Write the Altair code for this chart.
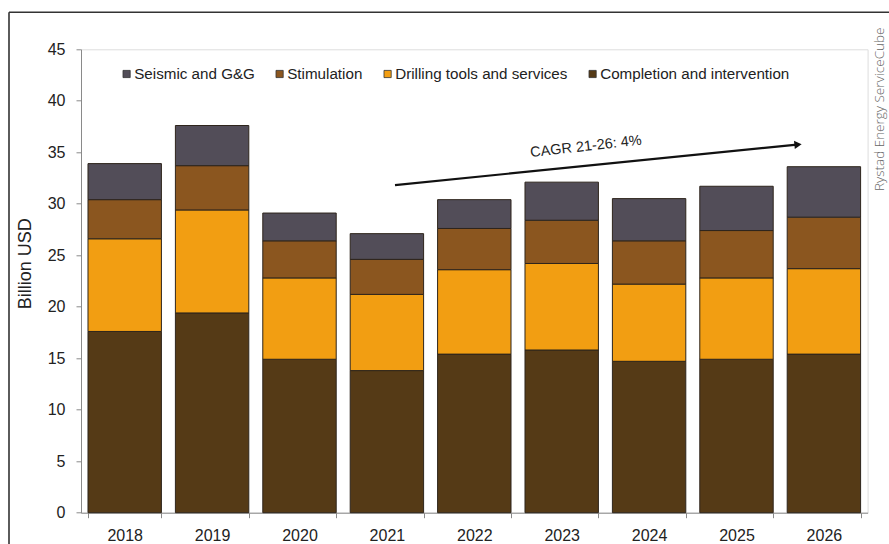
import altair as alt
import pandas as pd

years = ["2018", "2019", "2020", "2021", "2022", "2023", "2024", "2025", "2026"]
series = ["Seismic and G&G", "Stimulation", "Drilling tools and services", "Completion and intervention"]
colors = ["#524d58", "#8b561f", "#f29e12", "#553a16"]
completion = [17.6, 19.4, 14.9, 13.8, 15.4, 15.8, 14.7, 14.9, 15.4]
drilling = [9.0, 10.0, 7.9, 7.4, 8.2, 8.4, 7.5, 7.9, 8.3]
stimulation = [3.8, 4.3, 3.6, 3.4, 4.0, 4.2, 4.2, 4.6, 5.0]
seismic = [3.5, 3.9, 2.7, 2.5, 2.8, 3.7, 4.1, 4.3, 4.9]
y_ticks = [0, 5, 10, 15, 20, 25, 30, 35, 40, 45]
cagr_label = "CAGR 21-26: 4%"
source_label = "Rystad Energy ServiceCube"

rows = []
for vals, name, order in [(completion, series[3], 0), (drilling, series[2], 1),
                          (stimulation, series[1], 2), (seismic, series[0], 3)]:
    for yr, v in zip(years, vals):
        rows.append({"year": yr, "series": name, "value": v, "ord": order})
df = pd.DataFrame(rows)

FONT = "Liberation Sans"
W, H = 786.6, 463.4

bars = alt.Chart(df).mark_bar(stroke="#2e251c", strokeWidth=1).encode(
    x=alt.X("year:N", sort=years,
            scale=alt.Scale(paddingInner=0.16, paddingOuter=0.08),
            axis=alt.Axis(title=None, tickBand="extent", labelAngle=0, labelFontSize=16,
                          labelColor="#222", labelFont=FONT, domainColor="#8a8a8a",
                          tickColor="#8a8a8a", tickSize=5, labelPadding=10)),
    y=alt.Y("value:Q", stack="zero",
            scale=alt.Scale(domain=[0, 45], nice=False),
            axis=alt.Axis(title="Billion USD", values=y_ticks, grid=False, labelFontSize=16,
                          labelColor="#222", labelFont=FONT, domainColor="#8a8a8a",
                          tickColor="#8a8a8a", tickSize=5, labelPadding=11,
                          titleFontSize=18, titleFont=FONT, titleFontWeight="normal",
                          titleColor="#222", titleX=-56, titleY=214, titleAlign="center",
                          titleBaseline="middle", titleAngle=270)),
    color=alt.Color("series:N",
                    scale=alt.Scale(domain=series, range=colors),
                    legend=alt.Legend(title=None, orient="none", direction="horizontal",
                                      legendX=38, legendY=17, symbolType="square",
                                      symbolSize=52, symbolStrokeColor="#333",
                                      symbolStrokeWidth=0.8, labelFontSize=15.2,
                                      labelFont=FONT, labelColor="#222", labelOffset=0,
                                      labelLimit=0,
                                      columnPadding=17, padding=0, columns=4)),
    order=alt.Order("ord:Q", sort="ascending"),
)

frame_df = pd.DataFrame({"k": [0]})
frame_left = alt.Chart(frame_df).mark_rule(color="#333", strokeWidth=1.6).encode(
    x=alt.value(-72), y=alt.value(-37), y2=alt.value(520))
frame_top = alt.Chart(frame_df).mark_rule(color="#333", strokeWidth=1.6).encode(
    x=alt.value(-72), x2=alt.value(830), y=alt.value(-37))

arrow_line = alt.Chart(frame_df).mark_rule(color="#111", strokeWidth=2.2).encode(
    x=alt.value(314), x2=alt.value(716), y=alt.value(135.8), y2=alt.value(95.3))
arrow_head = alt.Chart(frame_df).mark_point(shape="triangle-right", filled=True, color="#111",
                                            size=70, angle=354.3, opacity=1).encode(
    x=alt.value(717), y=alt.value(95.2))
cagr = alt.Chart(pd.DataFrame({"t": [cagr_label]})).mark_text(
    font=FONT, fontSize=14.5, color="#222", angle=353.5).encode(
    text="t:N", x=alt.value(505), y=alt.value(97.5))
source = alt.Chart(pd.DataFrame({"t": [source_label]})).mark_text(
    font="Open Sans", fontSize=13.5, color="#666", angle=270, fontWeight=300).encode(
    text="t:N", x=alt.value(799), y=alt.value(60))

chart = alt.layer(frame_left, frame_top, bars, arrow_line, arrow_head, cagr, source).properties(
    width=W, height=H,
    autosize=alt.AutoSizeParams(type="none"),
    padding={"left": 81, "top": 49.3, "right": 889 - 81 - W, "bottom": 544 - 49.3 - H},
).configure_view(stroke=None).configure(background="white")

chart.save("out.html", embed_options={"renderer": "svg", "actions": False})
